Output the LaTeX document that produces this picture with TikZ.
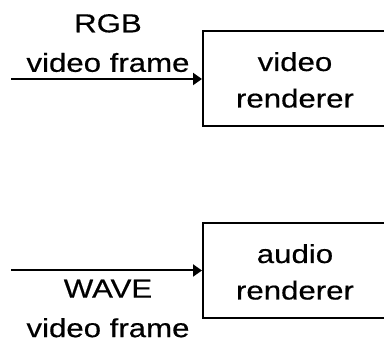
\documentclass[tikz,border=0pt]{standalone}
\usepackage{fontspec}
\setmainfont{Liberation Sans}[FakeStretch=1.2,FakeBold=0.5]
\usetikzlibrary{arrows.meta}
\begin{document}
\begin{tikzpicture}[x=1pt,y=1pt,
  renderer/.style={draw,line width=2pt,rectangle,minimum width=184pt,minimum height=95pt,
    inner sep=0pt,align=center,text height=58pt,text depth=0pt,
    font=\fontsize{26}{36.5}\selectfont},
  streamlabel/.style={inner sep=0pt,align=center,font=\fontsize{26}{39.5}\selectfont},
  feed/.style={line width=2pt,-{Triangle[length=9pt,width=12pt]}}]
  \clip (0,0) rectangle (384,-339);
  % renderer boxes (right edge runs off the page)
  \node[renderer] (vr) at (295,-78.5) {video\\renderer};
  \node[renderer] (ar) at (295,-270.5) {audio\\renderer};
  % free ends of the input streams
  \coordinate (vin) at (11,-79);
  \coordinate (ain) at (11,-270.5);
  \draw[feed] (vin) -- (vin -| vr.west);
  \draw[feed] (ain) -- (ain -| ar.west);
  % stream labels
  \node[streamlabel,anchor=south,text depth=0pt] (vl) at (108,-72) {RGB\\video frame};
  \node[streamlabel,anchor=north] (al) at (108,-279.5) {WAVE\\video frame};
\end{tikzpicture}
\end{document}
